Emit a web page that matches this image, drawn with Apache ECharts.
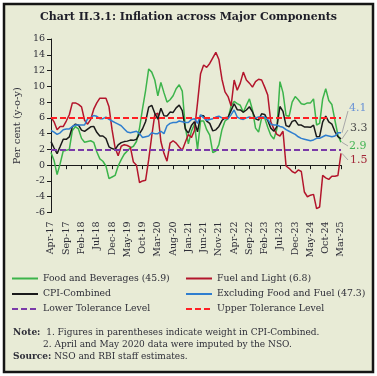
<!DOCTYPE html>
<html>
<head>
<meta charset="utf-8">
<script src="https://cdn.jsdelivr.net/npm/echarts@6/dist/echarts.min.js"></script>
<style>
  html, body { margin: 0; padding: 0; background: #ffffff; }
  #chart { width: 377px; height: 376px; }
</style>
</head>
<body>
<div id="chart"></div>
<script>
// months Apr-17 .. Mar-25
const monthNames = ['Jan', 'Feb', 'Mar', 'Apr', 'May', 'Jun', 'Jul', 'Aug', 'Sep', 'Oct', 'Nov', 'Dec']
const months = []
for (let y = 2017, m = 3; y < 2025 || (y === 2025 && m <= 2); m++) {
  if (m === 12) { m = 0; y++ }
  months.push(monthNames[m] + '-' + String(y).slice(2))
}

const foodBeverages = [
  1.6, 0.6, -1.2, 0.2, 1.8, 1.9, 2.0, 4.4, 4.9,
  4.6, 3.4, 2.9, 3.0, 3.1, 2.9, 1.7, 0.8, 0.5, -0.1, -1.7, -1.5,
  -1.3, -0.1, 0.7, 1.4, 1.8, 2.2, 2.4, 3.0, 4.7, 7.2, 9.5, 12.2,
  11.8, 10.8, 8.8, 10.5, 9.2, 8.0, 8.3, 8.8, 9.7, 10.2, 9.4, 4.8,
  2.7, 4.3, 5.2, 2.0, 5.6, 5.6, 4.5, 3.8, 1.6, 1.8, 2.6, 4.5,
  5.6, 5.9, 7.5, 8.1, 7.8, 7.6, 6.7, 7.6, 8.4, 7.0, 4.7, 4.2,
  6.0, 6.0, 4.8, 3.8, 3.3, 4.6, 10.6, 9.2, 6.3, 6.2, 8.0, 8.7,
  8.3, 7.8, 7.7, 7.9, 7.9, 8.4, 5.1, 5.3, 8.4, 9.7, 8.2, 7.7,
  5.7, 3.8, 2.9
]
const fuelLight = [
  6.1, 5.5, 4.5, 4.9, 4.9, 5.6, 6.4, 7.9, 7.9,
  7.7, 7.4, 5.7, 5.2, 5.8, 7.1, 7.9, 8.5, 8.5, 8.5, 7.4, 4.5,
  2.2, 1.2, 2.4, 2.6, 2.5, 2.3, 0.4, 0.0, -2.2, -2.0, -1.9, 0.7,
  3.7, 6.4, 6.6, 3.0, 1.5, 0.5, 2.8, 3.1, 2.8, 2.3, 1.9, 2.9,
  3.9, 3.5, 4.4, 7.9, 11.6, 12.7, 12.4, 12.9, 13.6, 14.3, 13.4, 10.9,
  9.3, 8.7, 7.5, 10.8, 9.5, 10.4, 11.8, 10.8, 10.4, 9.9, 10.6, 10.9,
  10.8, 9.9, 8.9, 5.5, 4.6, 3.9, 3.7, 4.3, -0.1, -0.4, -0.8, -1.0,
  -0.6, -0.8, -3.4, -4.0, -3.8, -3.7, -5.5, -5.3, -1.3, -1.6, -1.8, -1.4,
  -1.4, -1.3, 1.5
]
const cpiCombined = [
  2.99, 2.18, 1.46, 2.36, 3.28, 3.28, 3.58, 4.88, 5.21,
  5.07, 4.44, 4.28, 4.58, 4.87, 4.92, 4.17, 3.69, 3.70, 3.38, 2.33, 2.11,
  1.97, 2.57, 2.86, 2.99, 3.05, 3.18, 3.15, 3.28, 3.99, 4.62, 5.54, 7.35,
  7.59, 6.58, 5.84, 7.22, 6.27, 6.23, 6.73, 6.69, 7.27, 7.61, 6.93, 4.59,
  4.06, 5.03, 5.52, 4.23, 6.30, 6.26, 5.59, 5.30, 4.35, 4.48, 4.91, 5.66,
  6.01, 6.07, 6.95, 7.79, 7.04, 7.01, 6.71, 7.00, 7.41, 6.77, 5.88, 5.72,
  6.52, 6.44, 5.66, 4.70, 4.31, 4.87, 7.44, 6.83, 5.02, 4.87, 5.55, 5.69,
  5.10, 5.09, 4.85, 4.83, 4.80, 5.08, 3.60, 3.65, 5.49, 6.21, 5.48, 5.22,
  4.26, 3.61, 3.34
]
const exFoodFuel = [
  4.4, 4.2, 3.9, 4.1, 4.5, 4.6, 4.6, 4.9, 5.1,
  5.1, 5.1, 5.1, 5.9, 6.0, 6.3, 6.2, 5.9, 5.9, 6.1, 5.8, 5.6,
  5.4, 5.2, 5.0, 4.6, 4.2, 4.1, 4.2, 4.3, 4.0, 3.5, 3.6, 3.7,
  4.1, 4.0, 4.0, 4.3, 4.0, 5.0, 5.3, 5.4, 5.4, 5.6, 5.5, 5.4,
  5.4, 5.8, 5.9, 5.3, 6.4, 6.0, 5.7, 5.8, 5.9, 6.1, 6.2, 6.0,
  5.9, 5.9, 6.4, 7.0, 6.1, 5.9, 5.8, 6.0, 6.1, 6.0, 6.0, 6.1,
  6.1, 6.1, 5.8, 5.2, 5.1, 5.1, 4.9, 4.8, 4.5, 4.3, 4.1, 3.9,
  3.6, 3.4, 3.3, 3.2, 3.1, 3.2, 3.4, 3.4, 3.6, 3.8, 3.7, 3.6,
  3.7, 4.1, 4.1
]
const lowerTolerance = 2
const upperTolerance = 6

const seriesNames = [
  'Food and Beverages (45.9)', 'Fuel and Light (6.8)',
  'CPI-Combined', 'Excluding Food and Fuel (47.3)',
  'Lower Tolerance Level', 'Upper Tolerance Level'
]
const yTicks = [-6, 16, 2]

const font = 'DejaVu Serif'
const txt = '#2e2e38'
const bg = '#e8ebd6'

const chart = echarts.init(document.getElementById('chart'))

const lineSeries = (name, data, color, width) => ({
  name, type: 'line', data, symbol: 'none', xAxisIndex: 0, yAxisIndex: 0,
  lineStyle: { color, width }, itemStyle: { color }, z: 3
})
const levelSeries = (name, value, color) => ({
  name, type: 'line', data: [], symbol: 'none',
  lineStyle: { color, width: 2, type: [6, 3] }, itemStyle: { color },
  markLine: {
    silent: true, symbol: ['none', 'none'], label: { show: false },
    lineStyle: { color, width: 2, type: [6, 3] },
    data: [{ yAxis: value }]
  }
})

// legend: one per item, two columns
const legendPos = [[11, 274], [185, 274], [11, 289.5], [185, 289.5], [11, 304.5], [185, 304.5]]
const legends = seriesNames.map((n, i) => ({
  data: [n], left: legendPos[i][0], top: legendPos[i][1], padding: 0,
  itemWidth: 26, itemHeight: 10, itemGap: 5, selectedMode: false,
  itemStyle: { opacity: 0 },
  lineStyle: { width: 2 },
  textStyle: { fontFamily: font, fontSize: 9.3, color: txt }
}))

const baseGraphic = [
  { type: 'rect', z: -10, shape: { x: 4, y: 4, width: 369, height: 368 },
    style: { fill: bg, stroke: '#151515', lineWidth: 2.5 } },
  { type: 'text', left: 'center', top: 12,
    style: { text: 'Chart II.3.1: Inflation across Major Components', font: 'bold 11px "DejaVu Serif"', fill: '#1e1e28' } },
  { type: 'text', left: 13, top: 328,
    style: { text: '{b|Note:}  1. Figures in parentheses indicate weight in CPI-Combined.', font: '9px "DejaVu Serif"', fill: txt,
      rich: { b: { fontWeight: 'bold', fontFamily: font, fontSize: 9, fill: txt } } } },
  { type: 'text', left: 43, top: 340,
    style: { text: '2. April and May 2020 data were imputed by the NSO.', font: '9px "DejaVu Serif"', fill: txt } },
  { type: 'text', left: 13, top: 352,
    style: { text: '{b|Source:} NSO and RBI staff estimates.', font: '9px "DejaVu Serif"', fill: txt,
      rich: { b: { fontWeight: 'bold', fontFamily: font, fontSize: 9, fill: txt } } } }
]

chart.setOption({
  animation: false,
  backgroundColor: '#ffffff',
  grid: { left: 51, right: 36, top: 39, bottom: 163.5 },
  legend: legends,
  xAxis: [
    {
      type: 'category', data: months, boundaryGap: false,
      axisLine: { onZero: true, lineStyle: { color: '#1a1a1a', width: 1 } },
      axisTick: { interval: 4, length: 4, lineStyle: { color: '#1a1a1a' } },
      axisLabel: { show: false }, splitLine: { show: false }
    },
    {
      type: 'category', data: months, boundaryGap: false, position: 'bottom',
      axisLine: { show: false, onZero: false }, axisTick: { show: false },
      axisLabel: { interval: 4, rotate: 90, margin: 9, fontFamily: font, fontSize: 9.5, color: txt },
      splitLine: { show: false }
    }
  ],
  yAxis: {
    type: 'value', min: yTicks[0], max: yTicks[1], interval: yTicks[2],
    name: 'Per cent (y-o-y)', nameLocation: 'middle', nameGap: 27,
    nameTextStyle: { fontFamily: font, fontSize: 10, color: txt },
    axisLine: { show: true, lineStyle: { color: '#1a1a1a' } },
    axisTick: { show: true, length: 4, lineStyle: { color: '#1a1a1a' } },
    axisLabel: { margin: 6, fontFamily: font, fontSize: 9.5, color: txt },
    splitLine: { show: false }
  },
  series: [
    lineSeries(seriesNames[0], foodBeverages, '#3cb44b', 1.5),
    lineSeries(seriesNames[1], fuelLight, '#b3152c', 1.5),
    lineSeries(seriesNames[2], cpiCombined, '#1a1a1a', 1.5),
    lineSeries(seriesNames[3], exFoodFuel, '#2f7ecf', 1.5),
    levelSeries(seriesNames[4], lowerTolerance, '#7a3aa8'),
    levelSeries(seriesNames[5], upperTolerance, '#ff1f24')
  ],
  graphic: { elements: baseGraphic }
})

// end-value labels with leader lines
const last = months.length - 1
const endLabels = [
  { data: exFoodFuel, color: '#6a93d6', to: [348, 111], text: [349, 108] },
  { data: cpiCombined, color: '#4a4a4a', to: [348, 130], text: [350, 128] },
  { data: foodBeverages, color: '#44b454', to: [348, 146], text: [349, 146] },
  { data: fuelLight, color: '#a3283a', to: [348, 160], text: [350, 160] }
]
const extra = []
endLabels.forEach(l => {
  const p = chart.convertToPixel({ xAxisIndex: 0, yAxisIndex: 0 }, [last, l.data[last]])
  extra.push({ type: 'line', z: 5, shape: { x1: p[0] + 1, y1: p[1], x2: l.to[0], y2: l.to[1] },
    style: { stroke: '#a8a8a8', lineWidth: 1 } })
  extra.push({ type: 'text', z: 5, x: l.text[0], y: l.text[1],
    style: { text: l.data[last].toFixed(1), font: '11px "DejaVu Serif"', fill: l.color, textVerticalAlign: 'middle', verticalAlign: 'middle' } })
})
chart.setOption({ graphic: { elements: baseGraphic.concat(extra) } })
</script>
</body>
</html>
